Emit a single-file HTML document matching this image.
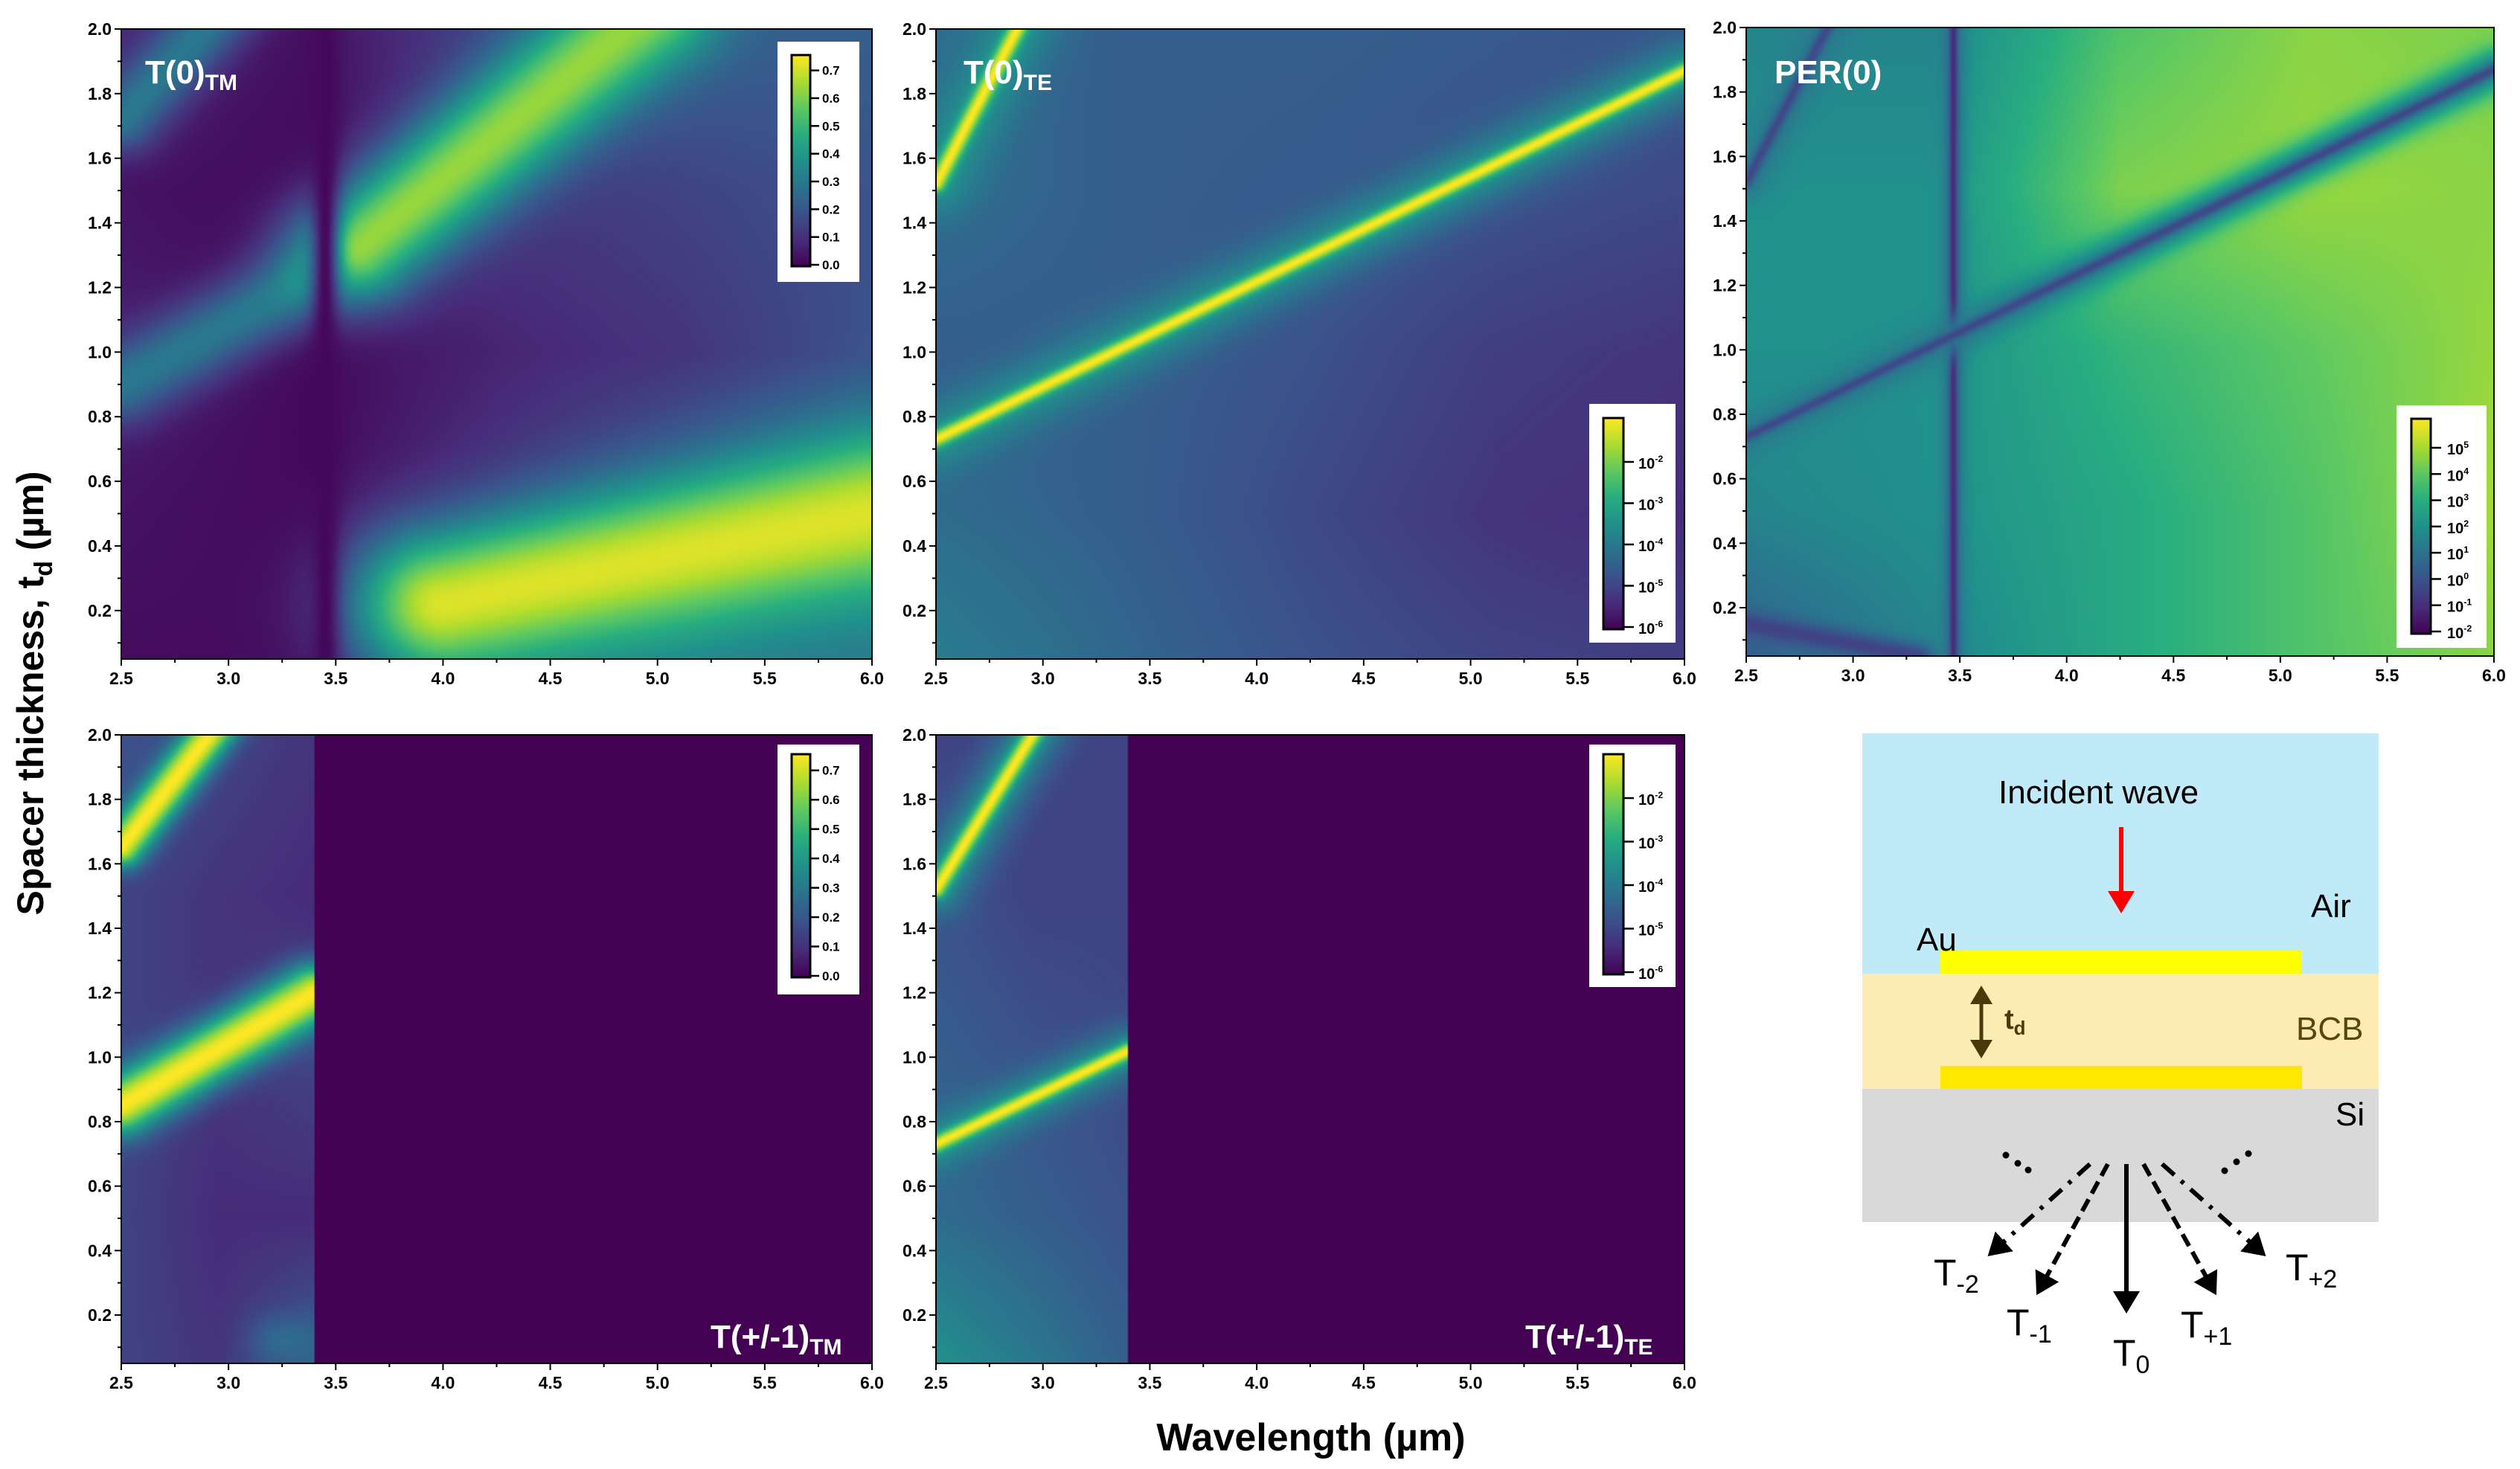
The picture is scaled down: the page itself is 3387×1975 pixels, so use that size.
<!DOCTYPE html>
<html><head><meta charset="utf-8">
<style>
body{margin:0;background:#fff;}
#root{position:relative;width:3387px;height:1975px;overflow:hidden;background:#fff;font-family:"Liberation Sans",sans-serif;}
canvas{position:absolute;}
svg{position:absolute;left:0;top:0;}
</style></head>
<body>
<div id="root">
<canvas id="cA"></canvas>
<canvas id="cB"></canvas>
<canvas id="cC"></canvas>
<canvas id="cD"></canvas>
<canvas id="cE"></canvas>
<canvas id="cbA"></canvas>
<canvas id="cbB"></canvas>
<canvas id="cbC"></canvas>
<canvas id="cbD"></canvas>
<canvas id="cbE"></canvas>
<svg id="ov" width="3387" height="1975"></svg>
</div>
<script>
// ---- data ----
const xTicks=[2.5,3.0,3.5,4.0,4.5,5.0,5.5,6.0];
const yTicks=[0.2,0.4,0.6,0.8,1.0,1.2,1.4,1.6,1.8,2.0];
const lamRange=[2.5,6.0];
const tRange=[0.05,2.0];
const gridLam5=[2.5,3.375,4.25,5.125,6.0];
const gridLam3=[2.5,2.95,3.4];
const gridT=[2.0,1.5,1.0,0.5,0.05];
const bgA=[[0.1,0.04,0.2,0.3,0.3],[0.05,0.02,0.15,0.2,0.25],[0.08,0.02,0.1,0.15,0.25],[0.05,0.02,0.15,0.3,0.45],[0.03,0.03,0.3,0.4,0.4]];
const bgB=[[0.35,0.3,0.3,0.28,0.25],[0.35,0.3,0.28,0.25,0.22],[0.3,0.3,0.25,0.18,0.15],[0.35,0.3,0.22,0.15,0.12],[0.42,0.33,0.25,0.2,0.18]];
const bgC=[[0.45,0.45,0.72,0.82,0.8],[0.5,0.5,0.8,0.84,0.82],[0.5,0.5,0.65,0.75,0.84],[0.45,0.5,0.6,0.72,0.86],[0.3,0.45,0.6,0.72,0.82]];
const bgD=[[0.25,0.2,0.15],[0.2,0.15,0.12],[0.2,0.15,0.2],[0.2,0.12,0.12],[0.2,0.15,0.3]];
const bgE=[[0.2,0.2,0.2],[0.25,0.2,0.2],[0.3,0.25,0.22],[0.35,0.3,0.25],[0.5,0.4,0.3]];
// bands: [lam1,t1,lam2,t2,amp,width]
const bandsA=[[2.5,0.9,3.3,1.2,0.4,0.06],[3.6,1.32,4.95,2.05,0.84,0.085],[4.0,0.22,6.0,0.5,0.95,0.12],[2.5,1.72,2.95,2.05,0.4,0.05],[3.45,0.05,3.45,2.0,0.02,0.02]];
const bandsB=[[2.5,0.73,6.0,1.87,0.5,0.05],[2.5,0.73,6.0,1.87,1.0,0.012],[2.5,1.52,2.92,2.05,0.5,0.05],[2.5,1.52,2.92,2.05,1.0,0.012]];
const bandsC=[[3.47,0.05,3.47,2.0,0.35,0.015],[3.47,0.05,3.47,2.0,0.12,0.005],[2.5,0.73,6.0,1.87,0.4,0.03],[2.5,0.73,6.0,1.87,0.22,0.008],[2.5,1.52,2.92,2.05,0.4,0.03],[2.5,1.52,2.92,2.05,0.22,0.008],[2.5,0.15,3.3,0.05,0.2,0.02]];
const bandsD=[[2.5,1.65,2.97,2.05,1.0,0.03],[2.5,0.85,3.4,1.2,1.0,0.045],[3.25,0.12,3.3,0.12,0.35,0.04]];
const bandsE=[[2.5,1.52,3.0,2.05,0.5,0.04],[2.5,1.52,3.0,2.05,1.0,0.012],[2.5,0.73,3.4,1.02,0.5,0.04],[2.5,0.73,3.4,1.02,1.0,0.012]];
const cutoffLam=3.4;
const cbLinLabels=["0.0","0.1","0.2","0.3","0.4","0.5","0.6","0.7"];
const cbLinValues=[0,0.1,0.2,0.3,0.4,0.5,0.6,0.7];
const cbTeExp=[-6,-5,-4,-3,-2];
const cbPerExp=[-2,-1,0,1,2,3,4,5];

// ---- colormap ----
const vir=[[68,1,84],[71,45,123],[59,82,139],[44,114,142],[33,145,140],[40,174,128],[94,201,98],[173,220,48],[253,231,37]];
function cmap(v){v=Math.max(0,Math.min(1,v));const f=v*8,i=Math.min(7,Math.floor(f)),r=f-i;const a=vir[i],b=vir[i+1];return [a[0]+(b[0]-a[0])*r,a[1]+(b[1]-a[1])*r,a[2]+(b[2]-a[2])*r];}

function nx(l){return (l-lamRange[0])/(lamRange[1]-lamRange[0]);}
function ny(t){return (t-tRange[0])/(tRange[1]-tRange[0]);}
function interp(grid,lams,lam,t){
  let ci=0;while(ci<lams.length-2&&lam>lams[ci+1])ci++;
  let ri=0;while(ri<gridT.length-2&&t<gridT[ri+1])ri++;
  const fx=Math.max(0,Math.min(1,(lam-lams[ci])/(lams[ci+1]-lams[ci])));
  const fy=Math.max(0,Math.min(1,(gridT[ri]-t)/(gridT[ri]-gridT[ri+1])));
  const a=grid[ri][ci],b=grid[ri][ci+1],c=grid[ri+1][ci],d=grid[ri+1][ci+1];
  return a*(1-fx)*(1-fy)+b*fx*(1-fy)+c*(1-fx)*fy+d*fx*fy;
}
function segDist(u,v,b){
  const x1=nx(b[0]),y1=ny(b[1]),x2=nx(b[2]),y2=ny(b[3]);
  const dx=x2-x1,dy=y2-y1,L=dx*dx+dy*dy;
  let s=L>0?((u-x1)*dx+(v-y1)*dy)/L:0;s=Math.max(0,Math.min(1,s));
  const px=x1+s*dx-u,py=y1+s*dy-v;return Math.sqrt(px*px+py*py);
}
function field(grid,lams,bands,cut,lam,t){
  if(cut&&lam>cut)return 0;
  let v=interp(grid,lams,lam,t);
  const u=nx(lam),w=ny(t);
  for(const b of bands){const d=segDist(u,w,b);const g=Math.exp(-(d/b[5])*(d/b[5]));v=v+(b[4]-v)*g;}
  return v;
}
const panels=[
 {id:'cA',x:163,y:39,w:1009,h:847,grid:bgA,lams:gridLam5,bands:bandsA,cut:0},
 {id:'cB',x:1258,y:39,w:1006,h:847,grid:bgB,lams:gridLam5,bands:bandsB,cut:0},
 {id:'cC',x:2347,y:37,w:1005,h:845,grid:bgC,lams:gridLam5,bands:bandsC,cut:0},
 {id:'cD',x:163,y:988,w:1009,h:845,grid:bgD,lams:gridLam3,bands:bandsD,cut:cutoffLam},
 {id:'cE',x:1258,y:988,w:1006,h:845,grid:bgE,lams:gridLam3,bands:bandsE,cut:cutoffLam}
];
for(const p of panels){
  const c=document.getElementById(p.id);const W=Math.round(p.w/2),H=Math.round(p.h/2);
  c.width=W;c.height=H;c.style.left=p.x+'px';c.style.top=p.y+'px';c.style.width=p.w+'px';c.style.height=p.h+'px';
  const ctx=c.getContext('2d');const img=ctx.createImageData(W,H);
  for(let j=0;j<H;j++){const t=tRange[1]-(j+0.5)/H*(tRange[1]-tRange[0]);
    for(let i=0;i<W;i++){const lam=lamRange[0]+(i+0.5)/W*(lamRange[1]-lamRange[0]);
      const col=cmap(field(p.grid,p.lams,p.bands,p.cut,lam,t));const k=(j*W+i)*4;
      img.data[k]=col[0];img.data[k+1]=col[1];img.data[k+2]=col[2];img.data[k+3]=255;}}
  ctx.putImageData(img,0,0);
}
// colorbars
const cbs=[
 {id:'cbA',box:[1045,56,110,323],bar:[1064,74,25,284],type:'lin'},
 {id:'cbB',box:[2136,543,116,321],bar:[2155,562,27,284],type:'te'},
 {id:'cbC',box:[3221,545,121,326],bar:[3241,563,26,289],type:'per'},
 {id:'cbD',box:[1045,1001,110,336],bar:[1064,1014,25,300],type:'lin'},
 {id:'cbE',box:[2136,1001,116,326],bar:[2155,1014,27,296],type:'te'}
];
const svg=document.getElementById('ov');const NS='http://www.w3.org/2000/svg';
function mk(tag,attrs,parent){const e=document.createElementNS(NS,tag);for(const k in attrs)e.setAttribute(k,attrs[k]);(parent||svg).appendChild(e);return e;}
for(const cb of cbs){
  const c=document.getElementById(cb.id);c.width=4;c.height=cb.bar[3];
  c.style.left=cb.bar[0]+'px';c.style.top=cb.bar[1]+'px';c.style.width=cb.bar[2]+'px';c.style.height=cb.bar[3]+'px';
  const ctx=c.getContext('2d');for(let j=0;j<cb.bar[3];j++){const col=cmap(1-j/cb.bar[3]);ctx.fillStyle=`rgb(${col[0]|0},${col[1]|0},${col[2]|0})`;ctx.fillRect(0,j,4,1);}
}
for(const cb of cbs){const d=document.createElement('div');d.style.cssText=`position:absolute;left:${cb.box[0]}px;top:${cb.box[1]}px;width:${cb.box[2]}px;height:${cb.box[3]}px;background:#fff;`;


document.getElementById('root').insertBefore(d,document.getElementById('cbA'));}

// axes
const F='"Liberation Sans",sans-serif';
for(const p of panels){
  const g=mk('g',{});
  
  
  mk('rect',{x:p.x,y:p.y,width:p.w,height:p.h,fill:'none',stroke:'#000','stroke-width':2},g);
  const X=l=>p.x+nx(l)*p.w, Y=t=>p.y+p.h-ny(t)*p.h;
  for(let l=2.5;l<=6.001;l+=0.25){const maj=Math.abs(l*2-Math.round(l*2))<1e-6;mk('line',{x1:X(l),x2:X(l),y1:p.y+p.h,y2:p.y+p.h+(maj?9:5),stroke:'#000','stroke-width':2},g);}
  for(const l of xTicks){const tx=mk('text',{x:X(l),y:p.y+p.h+34,'text-anchor':'middle','font-family':F,'font-weight':'bold','font-size':23},g);tx.textContent=l.toFixed(1);}
  for(let t=0.1;t<=2.001;t+=0.1){const maj=Math.round(t*10)%2===0;mk('line',{x1:p.x,x2:p.x-(maj?9:5),y1:Y(t),y2:Y(t),stroke:'#000','stroke-width':2},g);}
  for(const t of yTicks){const tx=mk('text',{x:p.x-13,y:Y(t)+8,'text-anchor':'end','font-family':F,'font-weight':'bold','font-size':23},g);tx.textContent=t.toFixed(1);}
}
function sup(parent,x,y,base,exp,fs){const t=mk('text',{x:x,y:y,'font-family':F,'font-weight':'bold','font-size':fs},parent);t.textContent=base;const s=mk('tspan',{dy:-fs*0.45,'font-size':fs*0.62},t);s.textContent=exp;}
for(const cb of cbs){
  const g=mk('g',{});
  
  
  const [bx,by,bw,bh]=cb.bar;
  mk('rect',{x:bx,y:by,width:bw,height:bh,fill:'none',stroke:'#000','stroke-width':3},g);
  if(cb.type==='lin'){
    for(let i=0;i<cbLinValues.length;i++){const yy=by+bh-2-cbLinValues[i]/0.75*(bh-4);
      mk('line',{x1:bx+bw,x2:bx+bw+12,y1:yy,y2:yy,stroke:'#000','stroke-width':2.5},g);
      const t=mk('text',{x:bx+bw+16,y:yy+6,'font-family':F,'font-weight':'bold','font-size':17},g);t.textContent=cbLinLabels[i];}
  } else if(cb.type==='te'){
    const y0=by+bh-3,step=(bh-3-59)/4;
    for(let i=0;i<cbTeExp.length;i++){const yy=y0-i*step;
      mk('line',{x1:bx+bw,x2:bx+bw+14,y1:yy,y2:yy,stroke:'#000','stroke-width':2.5},g);
      sup(g,bx+bw+20,yy+9,'10',String(cbTeExp[i]),20);}
  } else {
    const y0=by+bh-3,step=(bh-3-39)/7;
    for(let i=0;i<cbPerExp.length;i++){const yy=y0-i*step;
      mk('line',{x1:bx+bw,x2:bx+bw+14,y1:yy,y2:yy,stroke:'#000','stroke-width':2.5},g);
      sup(g,bx+bw+22,yy+9,'10',String(cbPerExp[i]),20);}
  }
}
function lab(x,y,main,sub,name){const t=mk('text',{x:x,y:y,fill:'#fff','font-family':F,'font-weight':'bold','font-size':44});


t.textContent=main;if(sub){const s=mk('tspan',{dy:9,'font-size':30},t);s.textContent=sub;}}
lab(195,112,'T(0)','TM','label-t0-tm');
lab(1295,112,'T(0)','TE','label-t0-te');
lab(2385,112,'PER(0)','','label-per0');
lab(955,1812,'T(+/-1)','TM','label-t1-tm');
lab(2050,1812,'T(+/-1)','TE','label-t1-te');
const yt=mk('text',{x:0,y:0,transform:'translate(58,932) rotate(-90)','text-anchor':'middle','font-family':F,'font-weight':'bold','font-size':50});


yt.textContent='Spacer thickness, t';{const s=mk('tspan',{dy:12,'font-size':34},yt);s.textContent='d';const s2=mk('tspan',{dy:-12},yt);s2.textContent=' (\u00b5m)';}
const xt=mk('text',{x:1762,y:1950,'text-anchor':'middle','font-family':F,'font-weight':'bold','font-size':52});


xt.textContent='Wavelength (\u00b5m)';
</script>
<svg width="3387" height="1975" style="position:absolute;left:0;top:0">
<defs>
<marker id="ah" markerWidth="6" markerHeight="6" refX="4" refY="3" orient="auto" markerUnits="strokeWidth"><path d="M0,0 L5,3 L0,6 z" fill="#000"/></marker>
<marker id="ahr" markerWidth="6" markerHeight="6" refX="4" refY="3" orient="auto" markerUnits="strokeWidth"><path d="M0,0 L5,3 L0,6 z" fill="#f00"/></marker>
<marker id="ahb" markerWidth="6" markerHeight="6" refX="4" refY="3" orient="auto-start-reverse" markerUnits="strokeWidth"><path d="M0,0 L5,3 L0,6 z" fill="#4a3a0a"/></marker>
</defs>
<rect x="2503" y="986" width="694" height="323" fill="#c0eaf8"/>
<rect x="2503" y="1309" width="694" height="155" fill="#fdebb4"/>
<rect x="2503" y="1464" width="694" height="179" fill="#d9d9d9"/>
<rect x="2608" y="1278" width="486" height="31" fill="#ffff00"/>
<rect x="2608" y="1433" width="486" height="31" fill="#ffe800"/>
<text x="2686" y="1080" font-family="Liberation Sans, sans-serif" font-size="44">Incident wave</text>
<line x1="2851" y1="1112" x2="2851" y2="1222" stroke="#f00" stroke-width="6" marker-end="url(#ahr)"/>
<text x="3106" y="1233" font-family="Liberation Sans, sans-serif" font-size="44">Air</text>
<text x="2576" y="1278" font-family="Liberation Sans, sans-serif" font-size="44">Au</text>
<text x="3086" y="1398" font-family="Liberation Sans, sans-serif" font-size="44" fill="#5a4410">BCB</text>
<text x="3139" y="1513" font-family="Liberation Sans, sans-serif" font-size="44">Si</text>
<line x1="2663" y1="1330" x2="2663" y2="1418" stroke="#4a3a0a" stroke-width="5" marker-start="url(#ahb)" marker-end="url(#ahb)"/>
<text x="2694" y="1383" font-family="Liberation Sans, sans-serif" font-weight="bold" font-size="38" fill="#4a3a0a">t<tspan dy="8" font-size="26">d</tspan></text>
<line x1="2858" y1="1565" x2="2858" y2="1760" stroke="#000" stroke-width="6" marker-end="url(#ah)"/>
<line x1="2833" y1="1565" x2="2740" y2="1736" stroke="#000" stroke-width="6" stroke-dasharray="18,9" marker-end="url(#ah)"/>
<line x1="2881" y1="1565" x2="2976" y2="1736" stroke="#000" stroke-width="6" stroke-dasharray="18,9" marker-end="url(#ah)"/>
<line x1="2809" y1="1565" x2="2676" y2="1685" stroke="#000" stroke-width="6" stroke-dasharray="22,12,5,12" marker-end="url(#ah)"/>
<line x1="2906" y1="1565" x2="3041" y2="1685" stroke="#000" stroke-width="6" stroke-dasharray="22,12,5,12" marker-end="url(#ah)"/>
<g fill="#000"><circle cx="2696" cy="1553" r="4.5"/><circle cx="2712" cy="1564" r="4.5"/><circle cx="2726" cy="1573" r="4.5"/><circle cx="3022" cy="1551" r="4.5"/><circle cx="3006" cy="1562" r="4.5"/><circle cx="2990" cy="1574" r="4.5"/></g>
<g font-family="Liberation Sans, sans-serif" font-size="50">
<text x="2599" y="1728">T<tspan dy="10" font-size="34">-2</tspan></text>
<text x="2697" y="1795">T<tspan dy="10" font-size="34">-1</tspan></text>
<text x="2840" y="1836">T<tspan dy="10" font-size="34">0</tspan></text>
<text x="2931" y="1798">T<tspan dy="10" font-size="34">+1</tspan></text>
<text x="3072" y="1721">T<tspan dy="10" font-size="34">+2</tspan></text>
</g>
</svg>
</body></html>
